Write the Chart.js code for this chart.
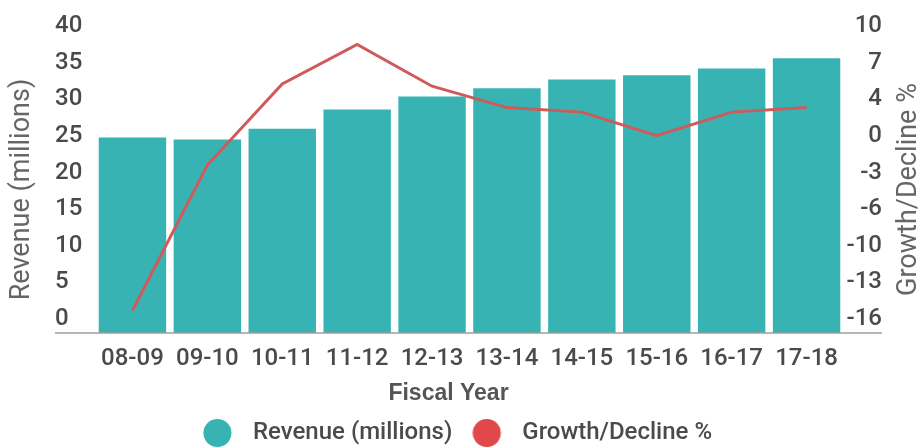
<!DOCTYPE html>
<html>
<head>
<meta charset="utf-8">
<script src="https://cdn.jsdelivr.net/npm/chart.js@4.4.1/dist/chart.umd.min.js"></script>
<style>
  html, body { margin: 0; padding: 0; background: #fff; overflow: hidden; }
  #wrap { width: 922px; height: 448px; }
</style>
</head>
<body>
<div id="wrap"><canvas id="revenue-chart"></canvas></div>
<script>
const years = ["08-09", "09-10", "10-11", "11-12", "12-13", "13-14", "14-15", "15-16", "16-17", "17-18"];
const revenue = [26.7, 26.4, 27.9, 30.5, 32.3, 33.4, 34.6, 35.2, 36.1, 37.5];
const growth = [-14.0, -1.1, 6.1, 9.6, 5.9, 4.0, 3.6, 1.5, 3.6, 4.0];

const revenueTicks = [0, 5, 10, 15, 20, 25, 30, 35, 40];
const growthTicks = [-16, -12.75, -9.5, -6.25, -3, 0.25, 3.5, 6.75, 10];
const growthTickLabels = ["-16", "-13", "-10", "-6", "-3", "0", "4", "7", "10"];

const revenueTitle = "Revenue (millions)";
const growthTitle = "Growth/Decline %";
const xTitle = "Fiscal Year";

const TEAL = "#38b3b3";
const RED = "#e0484c";
const LINE_RED = "#d05a5a";
const TEXT = "#4a4a4a";

Chart.defaults.font.family = "Roboto";
Chart.defaults.font.weight = 500;
Chart.defaults.color = TEXT;

// round legend marker with some empty room on its right
function legendDot(color) {
  const c = document.createElement("canvas");
  c.width = 38;
  c.height = 30;
  const g = c.getContext("2d");
  g.fillStyle = color;
  g.beginPath();
  g.arc(14.5, 15, 14, 0, Math.PI * 2);
  g.fill();
  return c;
}

// axis titles (both read bottom-up) and the long baseline under the tick columns
const axisDecor = {
  id: "axisDecor",
  afterLayout(chart) {
    // legend sits a little left of centre
    chart.legend.left -= 11;
    chart.legend.right -= 11;
  },
  afterDraw(chart) {
    const { ctx, chartArea, scales } = chart;
    ctx.save();
    ctx.strokeStyle = "#9e9e9e";
    ctx.lineWidth = 1.5;
    ctx.beginPath();
    ctx.moveTo(scales.y.left, chartArea.bottom);
    ctx.lineTo(scales.y1.right, chartArea.bottom);
    ctx.stroke();

    ctx.fillStyle = "#666";
    ctx.textAlign = "center";
    ctx.textBaseline = "middle";
    ctx.font = "27px Roboto";
    const midY = (chartArea.top + chartArea.bottom) / 2 + 3;
    [[22, revenueTitle], [909, growthTitle]].forEach(([x, text]) => {
      ctx.save();
      ctx.translate(x, midY);
      ctx.rotate(-Math.PI / 2);
      ctx.fillText(text, 0, 0);
      ctx.restore();
    });

    ctx.fillStyle = "#555";
    ctx.font = "bold 23px 'Liberation Sans', Arial";
    ctx.fillText(xTitle, (chartArea.left + chartArea.right) / 2 - 21, 394);
    ctx.restore();
  },
};

const noGrid = { display: false, drawTicks: false };

new Chart(document.getElementById("revenue-chart"), {
  type: "bar",
  data: {
    labels: years,
    datasets: [
      {
        type: "bar",
        label: revenueTitle,
        data: revenue,
        backgroundColor: TEAL,
        barPercentage: 0.9,
        categoryPercentage: 1,
        yAxisID: "y",
        order: 1,
      },
      {
        type: "line",
        label: growthTitle,
        data: growth,
        borderColor: LINE_RED,
        backgroundColor: RED,
        borderWidth: 3,
        pointRadius: 0,
        tension: 0,
        yAxisID: "y1",
        order: 0,
      },
    ],
  },
  options: {
    responsive: true,
    maintainAspectRatio: false,
    animation: false,
    layout: { padding: { left: 55, right: 40, top: 40, bottom: -7 } },
    plugins: {
      tooltip: { enabled: false },
      legend: {
        position: "bottom",
        labels: {
          usePointStyle: true,
          pointStyleWidth: 38,
          boxHeight: 24,
          padding: 20,
          font: { size: 24, weight: 500 },
          color: TEXT,
          generateLabels(chart) {
            return Chart.defaults.plugins.legend.labels.generateLabels(chart)
              .sort((a, b) => a.datasetIndex - b.datasetIndex)
              .map((item) => ({ ...item, pointStyle: legendDot(item.datasetIndex === 0 ? TEAL : RED) }));
          },
        },
      },
    },
    scales: {
      x: {
        grid: noGrid,
        border: { display: false },
        ticks: { padding: 12, maxRotation: 0, autoSkip: false, font: { size: 24 } },
        afterFit(s) {
          s.height = 68;
          s.paddingLeft = 0;
          s.paddingRight = 0;
        },
      },
      y: {
        position: "left",
        min: 0,
        max: 40,
        grid: noGrid,
        border: { display: false },
        ticks: { crossAlign: "far", labelOffset: -14, font: { size: 24 } },
        afterBuildTicks(s) {
          s.ticks = revenueTicks.map((v) => ({ value: v }));
        },
        afterFit(s) {
          s.width = 40;
          s.paddingTop = 0;
          s.paddingBottom = 0;
        },
      },
      y1: {
        position: "right",
        min: -16,
        max: 10,
        grid: noGrid,
        border: { display: false },
        ticks: {
          crossAlign: "far",
          labelOffset: -14,
          font: { size: 24 },
          callback: (v, i) => growthTickLabels[i],
        },
        afterBuildTicks(s) {
          s.ticks = growthTicks.map((v) => ({ value: v }));
        },
        afterFit(s) {
          s.width = 38;
          s.paddingTop = 0;
          s.paddingBottom = 0;
        },
      },
    },
  },
  plugins: [axisDecor],
});
</script>
</body>
</html>
